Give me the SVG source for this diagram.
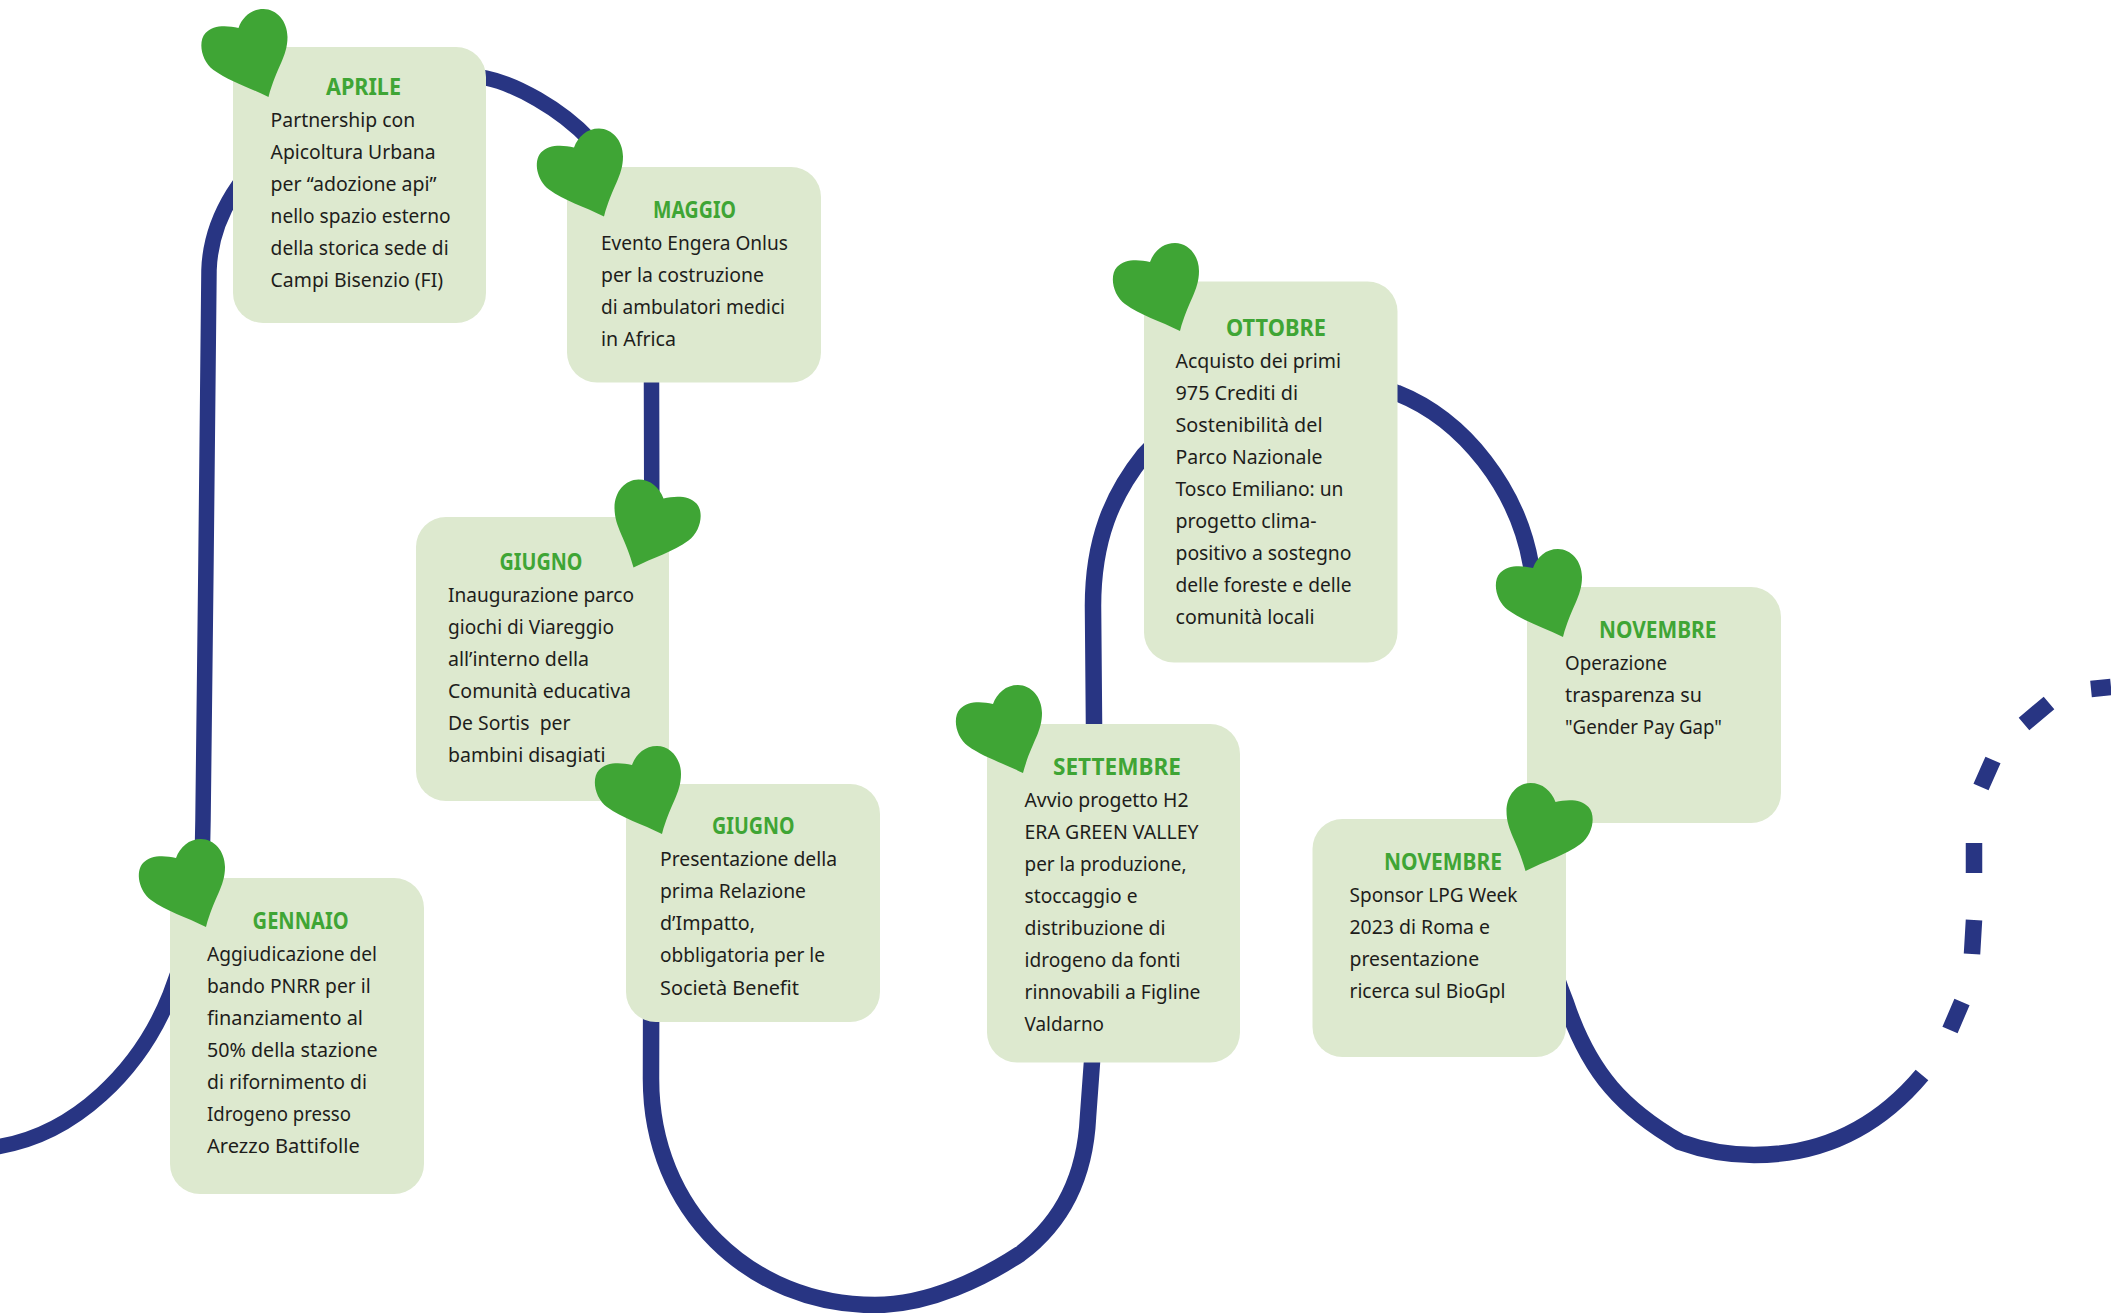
<svg xmlns="http://www.w3.org/2000/svg" width="2111" height="1313" viewBox="0 0 2111 1313">
<style>
.box{fill:#dde9cf}
.heart{fill:#3fa535}
.line{fill:none;stroke:#283583;stroke-width:16.5}
.thin{stroke-width:15.5}
text{font-family:"Noto Sans","Liberation Sans",sans-serif}
.t{font-size:22.5px;font-weight:700;fill:#3fa535}
.b{font-size:20.5px;fill:#1d1d1b}
</style>
<defs>
<path id="h" class="heart" d="M0,0C-20,-10 -40,-16 -55,-27C-67,-36 -71,-55 -63,-64C-56,-72 -42,-72 -30,-69C-26,-80 -17,-88 -5,-88C8,-88 19,-76 19,-60C19,-40 8,-30 0,0Z"/>
</defs>
<rect width="2111" height="1313" fill="#fff"/>
<g id="connectors">
<path class="line thin" d="M-4,1147C75,1135 140,1070 170,995C195,930 203,880 203,820L206,560L209,270C210,240 220,215 233,194C280,120 400,60 486,78C515,84 560,108 590,140C625,190 651,260 651.5,382L652,600"/>
<path class="line" d="M652,600L651,1079C651,1210 750,1305 875,1305C930,1305 985,1277 1020,1254C1060,1224 1085,1180 1088,1117L1092,1062L1094,724L1093,606C1093,540 1112,495 1144,455C1200,390 1320,360 1397,393C1465,420 1518,490 1531,565L1545,700L1540,900C1545,950 1555,975 1566,1003C1590,1075 1625,1110 1680,1142C1705,1151 1730,1155 1754,1155C1825,1155 1880,1125 1922,1075"/>
<path class="line" d="M1962,1002L1950,1030M1974,920L1972,954M1974,843L1974,873M1993,760L1981,787M2049,703L2024,724M2091,689L2111,687"/>
</g>
<g id="gennaio"><rect class="box" x="170" y="878" width="254" height="316" rx="30"/><use href="#h" x="206" y="927"/>
<text class="t" x="252.6" y="929" textLength="96" lengthAdjust="spacingAndGlyphs">GENNAIO</text>
<text class="b" x="207" y="961" textLength="170" lengthAdjust="spacingAndGlyphs">Aggiudicazione del</text>
<text class="b" x="207" y="993" textLength="163.6" lengthAdjust="spacingAndGlyphs">bando PNRR per il</text>
<text class="b" x="207" y="1025" textLength="156" lengthAdjust="spacingAndGlyphs">finanziamento al</text>
<text class="b" x="207" y="1057" textLength="170.5" lengthAdjust="spacingAndGlyphs">50% della stazione</text>
<text class="b" x="207" y="1089" textLength="160" lengthAdjust="spacingAndGlyphs">di rifornimento di</text>
<text class="b" x="207" y="1121" textLength="144" lengthAdjust="spacingAndGlyphs">Idrogeno presso</text>
<text class="b" x="207" y="1153" textLength="152.7" lengthAdjust="spacingAndGlyphs">Arezzo Battifolle</text></g>
<g id="aprile"><rect class="box" x="233" y="47" width="253" height="276" rx="30"/><use href="#h" x="268.5" y="97"/>
<text class="t" x="326" y="94.6" textLength="75" lengthAdjust="spacingAndGlyphs">APRILE</text>
<text class="b" x="270.6" y="126.5" textLength="144.5" lengthAdjust="spacingAndGlyphs">Partnership con</text>
<text class="b" x="270.6" y="158.5" textLength="165" lengthAdjust="spacingAndGlyphs">Apicoltura Urbana</text>
<text class="b" x="270.6" y="190.5" textLength="166" lengthAdjust="spacingAndGlyphs">per “adozione api”</text>
<text class="b" x="270.6" y="222.5" textLength="180" lengthAdjust="spacingAndGlyphs">nello spazio esterno</text>
<text class="b" x="270.6" y="254.5" textLength="178" lengthAdjust="spacingAndGlyphs">della storica sede di</text>
<text class="b" x="270.6" y="286.5" textLength="172.5" lengthAdjust="spacingAndGlyphs">Campi Bisenzio (FI)</text></g>
<g id="maggio"><rect class="box" x="567" y="167" width="254" height="215.5" rx="30"/><use href="#h" x="604" y="216.5"/>
<text class="t" x="653" y="218" textLength="83" lengthAdjust="spacingAndGlyphs">MAGGIO</text>
<text class="b" x="601" y="250" textLength="187" lengthAdjust="spacingAndGlyphs">Evento Engera Onlus</text>
<text class="b" x="601" y="282" textLength="163" lengthAdjust="spacingAndGlyphs">per la costruzione</text>
<text class="b" x="601" y="314" textLength="184" lengthAdjust="spacingAndGlyphs">di ambulatori medici</text>
<text class="b" x="601" y="346" textLength="75" lengthAdjust="spacingAndGlyphs">in Africa</text></g>
<g id="giugno-1"><rect class="box" x="416" y="517" width="253" height="284" rx="30"/><use href="#h" transform="translate(633.5,567.5) scale(-1,1)"/>
<text class="t" x="499.5" y="570" textLength="83" lengthAdjust="spacingAndGlyphs">GIUGNO</text>
<text class="b" x="448" y="601.5" textLength="186" lengthAdjust="spacingAndGlyphs">Inaugurazione parco</text>
<text class="b" x="448" y="633.5" textLength="166" lengthAdjust="spacingAndGlyphs">giochi di Viareggio</text>
<text class="b" x="448" y="665.5" textLength="141" lengthAdjust="spacingAndGlyphs">all’interno della</text>
<text class="b" x="448" y="697.5" textLength="183" lengthAdjust="spacingAndGlyphs">Comunità educativa</text>
<text class="b" x="448" y="729.5" xml:space="preserve" textLength="122.5" lengthAdjust="spacingAndGlyphs">De Sortis  per</text>
<text class="b" x="448" y="761.5" textLength="157.5" lengthAdjust="spacingAndGlyphs">bambini disagiati</text></g>
<g id="giugno-2"><rect class="box" x="626" y="784" width="254" height="238" rx="30"/><use href="#h" x="662" y="834"/>
<text class="t" x="712" y="834.4" textLength="82.5" lengthAdjust="spacingAndGlyphs">GIUGNO</text>
<text class="b" x="660" y="866" textLength="177" lengthAdjust="spacingAndGlyphs">Presentazione della</text>
<text class="b" x="660" y="898" textLength="146" lengthAdjust="spacingAndGlyphs">prima Relazione</text>
<text class="b" x="660" y="930" textLength="95" lengthAdjust="spacingAndGlyphs">d’Impatto,</text>
<text class="b" x="660" y="962" textLength="165" lengthAdjust="spacingAndGlyphs">obbligatoria per le</text>
<text class="b" x="660" y="994.5" textLength="139" lengthAdjust="spacingAndGlyphs">Società Benefit</text></g>
<g id="settembre"><rect class="box" x="987" y="724" width="253" height="338.5" rx="30"/><use href="#h" x="1023" y="773"/>
<text class="t" x="1053" y="775" textLength="128" lengthAdjust="spacingAndGlyphs">SETTEMBRE</text>
<text class="b" x="1024.5" y="807" textLength="164" lengthAdjust="spacingAndGlyphs">Avvio progetto H2</text>
<text class="b" x="1024.5" y="839" textLength="174" lengthAdjust="spacingAndGlyphs">ERA GREEN VALLEY</text>
<text class="b" x="1024.5" y="871" textLength="162" lengthAdjust="spacingAndGlyphs">per la produzione,</text>
<text class="b" x="1024.5" y="903" textLength="113" lengthAdjust="spacingAndGlyphs">stoccaggio e</text>
<text class="b" x="1024.5" y="935" textLength="141" lengthAdjust="spacingAndGlyphs">distribuzione di</text>
<text class="b" x="1024.5" y="967" textLength="156" lengthAdjust="spacingAndGlyphs">idrogeno da fonti</text>
<text class="b" x="1024.5" y="999" textLength="176" lengthAdjust="spacingAndGlyphs">rinnovabili a Figline</text>
<text class="b" x="1024.5" y="1031" textLength="79.5" lengthAdjust="spacingAndGlyphs">Valdarno</text></g>
<g id="ottobre"><rect class="box" x="1144" y="281.5" width="253.5" height="381" rx="30"/><use href="#h" x="1180" y="331"/>
<text class="t" x="1226" y="336" textLength="100" lengthAdjust="spacingAndGlyphs">OTTOBRE</text>
<text class="b" x="1175.5" y="368" textLength="165.6" lengthAdjust="spacingAndGlyphs">Acquisto dei primi</text>
<text class="b" x="1175.5" y="400" textLength="122.5" lengthAdjust="spacingAndGlyphs">975 Crediti di</text>
<text class="b" x="1175.5" y="432" textLength="147" lengthAdjust="spacingAndGlyphs">Sostenibilità del</text>
<text class="b" x="1175.5" y="464" textLength="147" lengthAdjust="spacingAndGlyphs">Parco Nazionale</text>
<text class="b" x="1175.5" y="496" textLength="168" lengthAdjust="spacingAndGlyphs">Tosco Emiliano: un</text>
<text class="b" x="1175.5" y="528" textLength="141" lengthAdjust="spacingAndGlyphs">progetto clima-</text>
<text class="b" x="1175.5" y="560" textLength="176" lengthAdjust="spacingAndGlyphs">positivo a sostegno</text>
<text class="b" x="1175.5" y="592" textLength="176" lengthAdjust="spacingAndGlyphs">delle foreste e delle</text>
<text class="b" x="1175.5" y="624" textLength="139" lengthAdjust="spacingAndGlyphs">comunità locali</text></g>
<g id="novembre-1"><rect class="box" x="1527" y="587" width="254" height="236" rx="30"/><use href="#h" x="1563" y="637"/>
<text class="t" x="1599" y="638" textLength="117.5" lengthAdjust="spacingAndGlyphs">NOVEMBRE</text>
<text class="b" x="1565" y="669.5" textLength="102" lengthAdjust="spacingAndGlyphs">Operazione</text>
<text class="b" x="1565" y="701.5" textLength="137" lengthAdjust="spacingAndGlyphs">trasparenza su</text>
<text class="b" x="1565" y="733.5" textLength="157" lengthAdjust="spacingAndGlyphs">"Gender Pay Gap"</text></g>
<g id="novembre-2"><rect class="box" x="1312.5" y="819" width="253.5" height="238" rx="30"/><use href="#h" transform="translate(1525.5,871) scale(-1,1)"/>
<text class="t" x="1384" y="870" textLength="118" lengthAdjust="spacingAndGlyphs">NOVEMBRE</text>
<text class="b" x="1349.5" y="901.5" textLength="168" lengthAdjust="spacingAndGlyphs">Sponsor LPG Week</text>
<text class="b" x="1349.5" y="933.5" textLength="140.5" lengthAdjust="spacingAndGlyphs">2023 di Roma e</text>
<text class="b" x="1349.5" y="965.5" textLength="129.6" lengthAdjust="spacingAndGlyphs">presentazione</text>
<text class="b" x="1349.5" y="997.5" textLength="156" lengthAdjust="spacingAndGlyphs">ricerca sul BioGpl</text></g>
</svg>
